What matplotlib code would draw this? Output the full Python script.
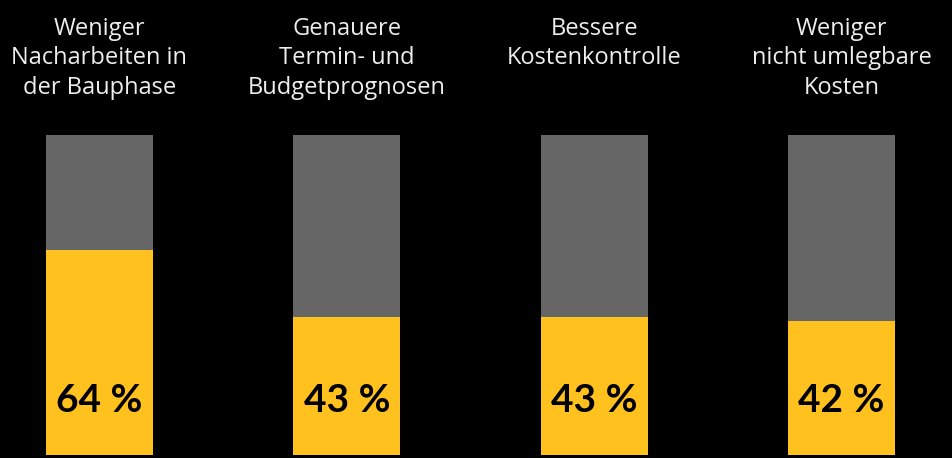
import numpy as np
import matplotlib.pyplot as plt

# Data
labels = ["Weniger\nNacharbeiten in\nder Bauphase",
          "Genauere\nTermin- und\nBudgetprognosen",
          "Bessere\nKostenkontrolle",
          "Weniger\nnicht umlegbare\nKosten"]
values = [64, 43, 43, 42]
total = 100

yellow = "#FFC11E"
grey = "#666666"

fig = plt.figure(figsize=(9.53, 4.58), dpi=100, facecolor="black")
ax = fig.add_axes([0, 3 / 458, 1, 320 / 458])
ax.set_facecolor("black")

x = np.arange(len(values))
vals = np.array(values)
ax.bar(x, vals, width=0.433, color=yellow)
ax.bar(x, total - vals, bottom=vals, width=0.433, color=grey)

ax.set_xlim(-0.402, 3.451)
ax.set_ylim(0, total)
ax.axis("off")

for xi, v, lab in zip(x, values, labels):
    ax.text(xi, 17, f"{v} %", ha="center", va="center", fontsize=28,
            fontweight="bold", color="black", family="Lato")
    ax.annotate(lab, xy=(xi, total), xytext=(0, 85), textcoords="offset points",
                ha="center", va="top", fontsize=17, color="#EEEEEE",
                family="Open Sans", linespacing=1.3)

fig.savefig("out.png", dpi=100, facecolor="black")
